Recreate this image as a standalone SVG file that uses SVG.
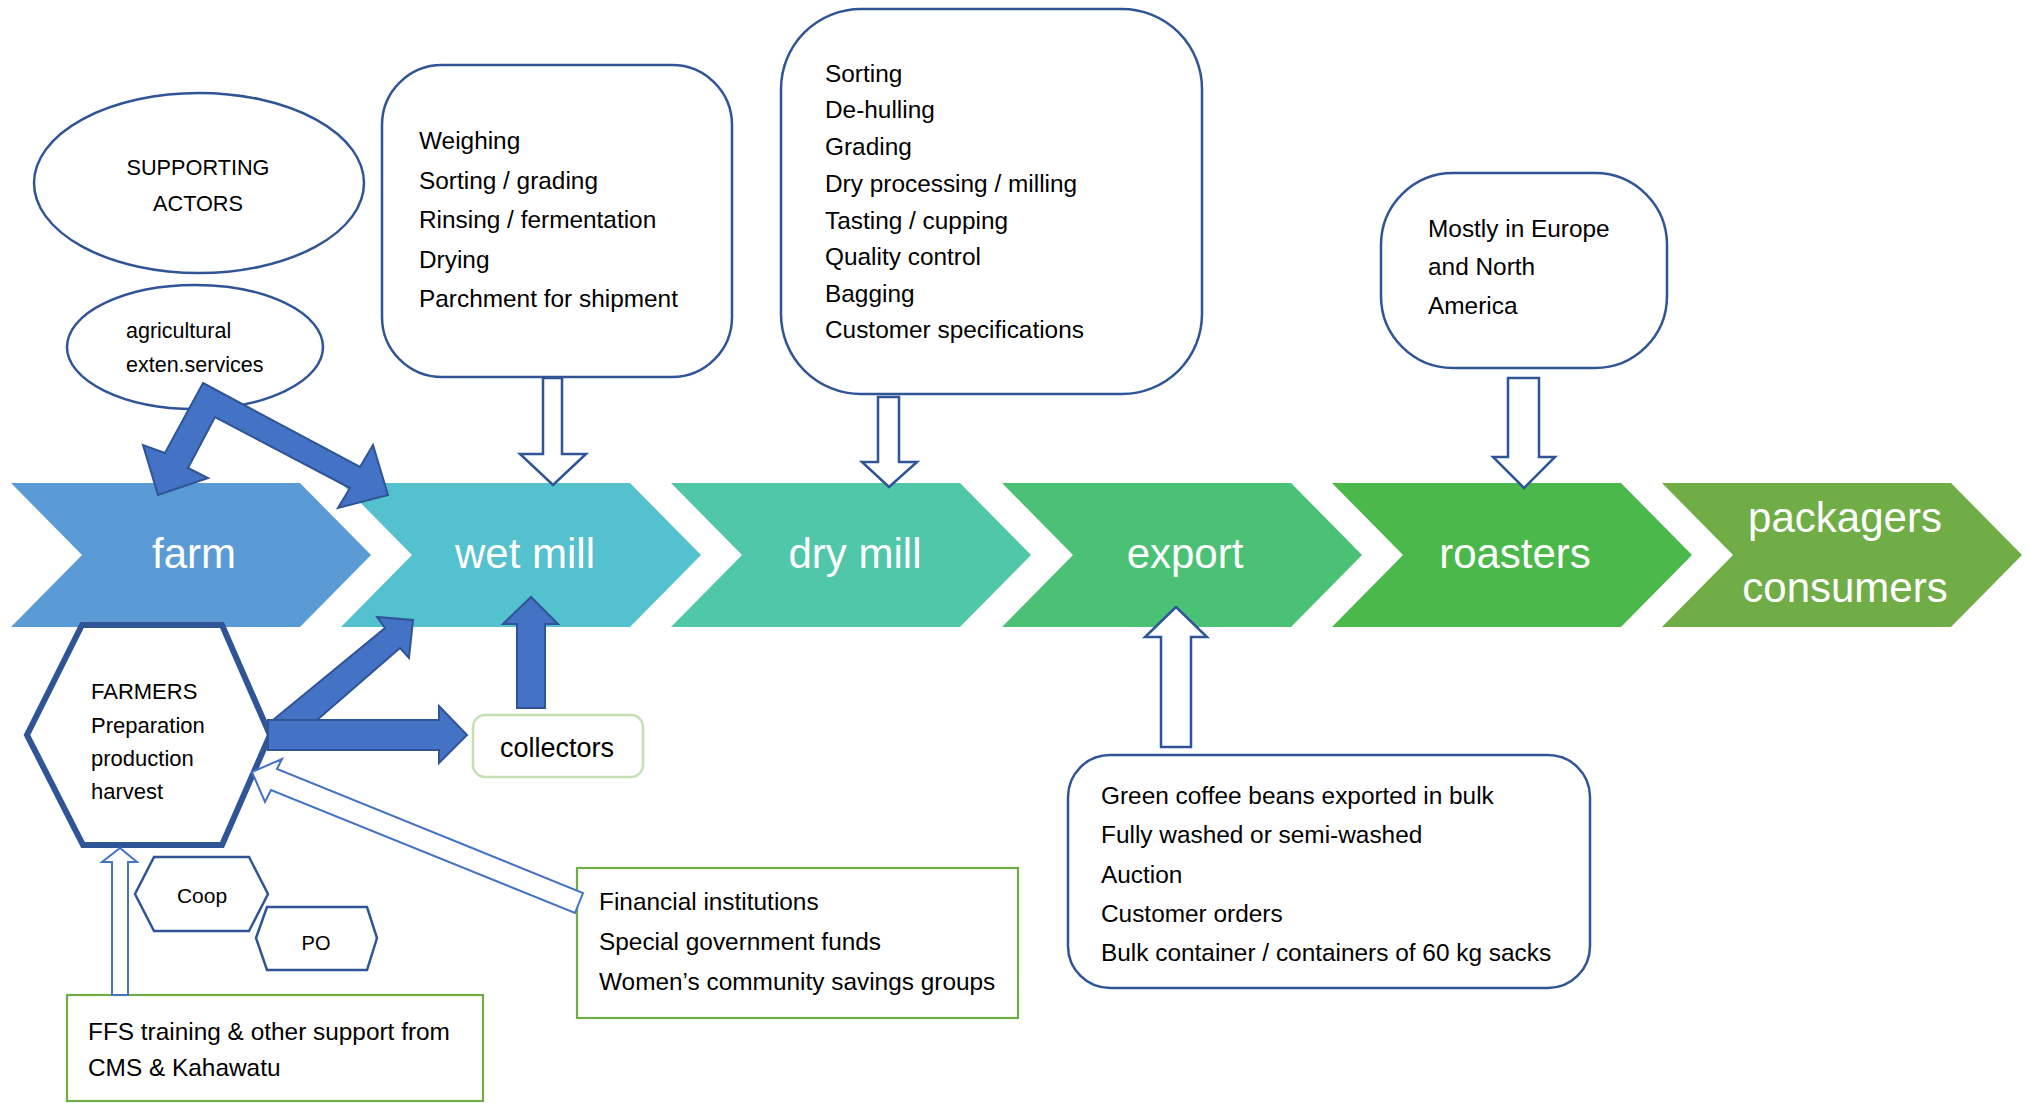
<svg xmlns="http://www.w3.org/2000/svg" width="2029" height="1103" viewBox="0 0 2029 1103">
<style>
.t{font-family:"Liberation Sans",Arial,sans-serif;fill:#000;}
.b24{font-size:24.4px;}
.ch{font-family:"Liberation Sans",Arial,sans-serif;font-size:42px;fill:#fff;text-anchor:middle;}
.box{fill:#fff;stroke:#2F5597;stroke-width:2.5;}
.gbox{fill:#fff;stroke:#70AD47;stroke-width:2.2;}
.solid{fill:#4472C4;stroke:#2F5597;stroke-width:2;stroke-linejoin:miter;}
.hollow{fill:#fff;stroke:#2F5597;stroke-width:2.5;}
.hollow2{fill:#fff;stroke:#4472C4;stroke-width:2;}
</style>
<rect width="2029" height="1103" fill="#fff"/>

<g id="chevrons">
<g id="farm"><polygon points="11,483 300,483 371,555 300,627 11,627 82,555" fill="#5B9BD5"/><text class="ch" x="194" y="568">farm</text></g>
<g id="wetmill"><polygon points="341,483 630,483 701,555 630,627 341,627 412,555" fill="#54C1CE"/><text class="ch" x="525" y="568">wet mill</text></g>
<g id="drymill"><polygon points="671,483 960,483 1031,555 960,627 671,627 742,555" fill="#50C7A9"/><text class="ch" x="855" y="568">dry mill</text></g>
<g id="export"><polygon points="1002,483 1291,483 1362,555 1291,627 1002,627 1073,555" fill="#4BC176"/><text class="ch" x="1185" y="568">export</text></g>
<g id="roasters"><polygon points="1332,483 1621,483 1692,555 1621,627 1332,627 1403,555" fill="#4AB84A"/><text class="ch" x="1515" y="568">roasters</text></g>
<g id="packagers"><polygon points="1662,483 1951,483 2022,555 1951,627 1662,627 1733,555" fill="#70AD47"/><text class="ch" x="1845" y="532" font-size="40">packagers</text><text class="ch" x="1845" y="602" font-size="40">consumers</text></g>
</g>

<g id="supporting-actors"><ellipse cx="199" cy="183" rx="165" ry="90" class="box"/>
<text class="t" x="198" y="175" font-size="21.7" text-anchor="middle">SUPPORTING</text>
<text class="t" x="198" y="211" font-size="21.7" text-anchor="middle">ACTORS</text></g>

<g id="agri-services"><ellipse cx="195" cy="347" rx="128" ry="62" class="box"/>
<text class="t" x="126" y="338" font-size="21.5">agricultural</text>
<text class="t" x="126" y="372" font-size="21.5">exten.services</text></g>

<g id="wetmill-box"><rect x="382" y="65" width="350" height="312" rx="60" class="box"/>
<text class="t b24" x="419" y="149">Weighing</text>
<text class="t b24" x="419" y="189">Sorting / grading</text>
<text class="t b24" x="419" y="228">Rinsing / fermentation</text>
<text class="t b24" x="419" y="268">Drying</text>
<text class="t b24" x="419" y="307">Parchment for shipment</text></g>

<g id="drymill-box"><rect x="781" y="9" width="421" height="385" rx="80" class="box"/>
<text class="t b24" x="825" y="82">Sorting</text>
<text class="t b24" x="825" y="118">De-hulling</text>
<text class="t b24" x="825" y="155">Grading</text>
<text class="t b24" x="825" y="192">Dry processing / milling</text>
<text class="t b24" x="825" y="229">Tasting / cupping</text>
<text class="t b24" x="825" y="265">Quality control</text>
<text class="t b24" x="825" y="302">Bagging</text>
<text class="t b24" x="825" y="338">Customer specifications</text></g>

<g id="roasters-box"><rect x="1381" y="173" width="286" height="195" rx="72" class="box"/>
<text class="t b24" x="1428" y="237">Mostly in Europe</text>
<text class="t b24" x="1428" y="275">and North</text>
<text class="t b24" x="1428" y="314">America</text></g>

<g id="export-box"><rect x="1068" y="755" width="522" height="233" rx="42" class="box"/>
<text class="t b24" x="1101" y="804">Green coffee beans exported in bulk</text>
<text class="t b24" x="1101" y="843">Fully washed or semi-washed</text>
<text class="t b24" x="1101" y="883">Auction</text>
<text class="t b24" x="1101" y="922">Customer orders</text>
<text class="t b24" x="1101" y="961">Bulk container / containers of 60 kg sacks</text></g>

<g id="collectors"><rect x="473" y="715" width="170" height="62" rx="12" fill="#fff" stroke="#C5E0B4" stroke-width="2.5"/>
<text class="t" x="557" y="757" font-size="27" text-anchor="middle">collectors</text></g>

<g id="farmers"><polygon points="82,625 222,625 270,735 222,845 83,845 27,735" fill="#fff" stroke="#2F5597" stroke-width="6" stroke-linejoin="miter"/>
<text class="t" x="91" y="699" font-size="22">FARMERS</text>
<text class="t" x="91" y="733" font-size="22">Preparation</text>
<text class="t" x="91" y="766" font-size="22">production</text>
<text class="t" x="91" y="799" font-size="22">harvest</text></g>

<g id="coop"><polygon points="135,894 154,857 249,857 268,894 249,931 154,931" class="box"/>
<text class="t" x="202" y="903" font-size="21" text-anchor="middle">Coop</text></g>

<g id="po"><polygon points="256,938 267,907 367,907 377,938 367,970 267,970" class="box"/>
<text class="t" x="316" y="950" font-size="20" text-anchor="middle">PO</text></g>

<g id="ffs-box"><rect x="67" y="995" width="416" height="106" class="gbox"/>
<text class="t b24" x="88" y="1040">FFS training &amp; other support from</text>
<text class="t b24" x="88" y="1076">CMS &amp; Kahawatu</text></g>

<g id="finance-box"><rect x="577" y="868" width="441" height="150" class="gbox"/>
<text class="t b24" x="599" y="910">Financial institutions</text>
<text class="t b24" x="599" y="950">Special government funds</text>
<text class="t b24" x="599" y="990">Women’s community savings groups</text></g>

<g id="connectors">
<polygon class="solid" points="203,383 360,467 373,445 388,495 338,508 350,488 215,417 188,468 208,478 158,495 143,445 165,453"/>
<polygon class="hollow" points="543,378 562,378 562,454 586,454 553,485 520,454 543,454"/>
<polygon class="hollow" points="878,397 899,397 899,462 917,462 889,487 862,462 878,462"/>
<polygon class="hollow" points="1508,378 1539,378 1539,457 1555,457 1524,488 1493,457 1508,457"/>
<polygon class="hollow" points="1161,747 1191,747 1191,637 1207,637 1176,607 1145,637 1161,637"/>
<polygon class="solid" points="517,708 545,708 545,624 558,624 531,597 503,624 517,624"/>
<polygon class="solid" points="273,720 385,628 377,617 413,620 409,658 400,648 317,720"/>
<polygon class="solid" points="268,720 439,720 439,706 467,735 439,763 439,750 268,750"/>
<polygon class="hollow2" points="252,772 282,759 277,769 583,893 575,913 271,790 265,802"/>
<polygon class="hollow2" points="112,995 128,995 128,862 137,862 120,848 102,862 112,862"/>
</g>
</svg>
